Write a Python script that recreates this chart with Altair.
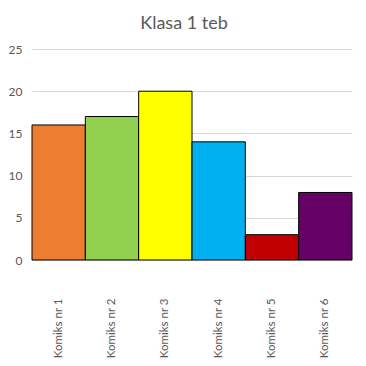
import altair as alt
import pandas as pd

categories = ["Komiks nr 1", "Komiks nr 2", "Komiks nr 3", "Komiks nr 4", "Komiks nr 5", "Komiks nr 6"]
values = [16, 17, 20, 14, 3, 8]
colors = ["#ED7D31", "#92D050", "#FFFF00", "#00B0F0", "#C00000", "#660066"]

df = pd.DataFrame({"cat": categories, "val": values})

FONT = "Lato"
GRAY = "#595959"

chart = alt.Chart(df).mark_bar(stroke="black", strokeWidth=1).encode(
    x=alt.X("cat:N", sort=categories, title=None,
            scale=alt.Scale(paddingInner=0, paddingOuter=0),
            axis=alt.Axis(labelAngle=-90, ticks=False, grid=False, domain=True, domainColor="#D9D9D9",
                          labelColor=GRAY, labelFont=FONT, labelFontSize=11.5, labelPadding=38)),
    y=alt.Y("val:Q", title=None,
            scale=alt.Scale(domain=[0, 25]),
            axis=alt.Axis(values=[0, 5, 10, 15, 20, 25], ticks=False, domain=False, grid=True,
                          gridColor="#D9D9D9", labelColor=GRAY, labelFont=FONT,
                          labelFontSize=12, labelPadding=10)),
    color=alt.Color("cat:N", sort=categories,
                    scale=alt.Scale(domain=categories, range=colors), legend=None),
).properties(
    width=320, height=211,
    title=alt.TitleParams("Klasa 1 teb", font=FONT, fontSize=18, fontWeight="normal",
                          color=GRAY, anchor="middle", dx=-8, offset=10),
    autosize=alt.AutoSizeParams(type="none"),
    padding={"left": 24, "top": 41, "right": 6, "bottom": 100},
).configure_view(stroke=None)

chart.save("out.html", embed_options={"renderer": "svg", "actions": False})
